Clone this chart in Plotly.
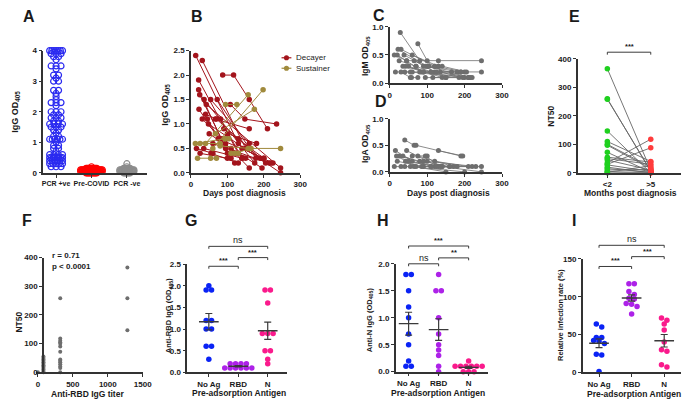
import numpy as np
import plotly.graph_objects as go

W, H = 700, 406
FONT = "Liberation Sans"
INK = "#1a1a1a"
AXIS = "#333333"

# ---------------- data ----------------
# A: IgG OD405 by group
a_groups = ["PCR +ve", "Pre-COVID", "PCR -ve"]
pcr_pos_igg = [4.0, 4.0, 4.0, 4.0, 4.0, 4.0, 4.0, 3.9, 3.9, 3.9, 3.8, 3.8, 3.7, 3.5, 3.5, 3.5, 3.4,
               3.2, 3.2, 3.1, 3.0, 3.0, 2.7, 2.7, 2.6, 2.5, 2.4, 2.3, 2.3, 2.3, 2.2, 2.0, 2.0, 2.0,
               1.9, 1.9, 1.8, 1.8, 1.8, 1.7, 1.7, 1.6, 1.6, 1.6, 1.6, 1.5, 1.5, 1.5, 1.4, 1.4, 1.3,
               1.2, 1.2, 1.1, 1.1, 1.1, 1.1, 1.1, 1.1, 1.0, 0.9, 0.9, 0.8, 0.8, 0.7, 0.6, 0.6, 0.6,
               0.6, 0.5, 0.5, 0.5, 0.5, 0.5, 0.5, 0.5, 0.5, 0.4, 0.4, 0.4, 0.4, 0.4, 0.4, 0.3, 0.3,
               0.3, 0.3, 0.3, 0.2, 0.2, 0.2]
pre_covid_igg = [0.0, 0.0, 0.0, 0.0, 0.0, 0.0, 0.0, 0.0, 0.0, 0.0,
                 0.05, 0.05, 0.05, 0.05, 0.05, 0.05, 0.05, 0.05, 0.05, 0.05,
                 0.05, 0.05, 0.05, 0.05, 0.05, 0.05, 0.05, 0.05, 0.05, 0.05,
                 0.1, 0.1, 0.1, 0.1, 0.1, 0.1, 0.1, 0.1, 0.1, 0.1,
                 0.1, 0.1, 0.1, 0.1, 0.1, 0.1, 0.1, 0.1, 0.1, 0.1,
                 0.15, 0.15, 0.15, 0.15, 0.15, 0.15, 0.15, 0.15, 0.15, 0.15, 0.2]
pcr_neg_igg = [0.0, 0.0, 0.0, 0.0, 0.0, 0.0,
               0.05, 0.05, 0.05, 0.05, 0.05, 0.05, 0.05, 0.05, 0.05, 0.05, 0.05, 0.05,
               0.1, 0.1, 0.1, 0.1, 0.1, 0.1, 0.1, 0.1, 0.1, 0.1, 0.1, 0.1,
               0.15, 0.15, 0.15, 0.15, 0.15, 0.15, 0.2, 0.3]

# B: IgG longitudinal, decayers and sustainers
decayer_days = [[13, 130], [31, 150], [87, 117, 160, 210], [21, 130], [21, 95], [24, 110],
                [36, 175], [54, 160], [72, 178], [108, 148, 235], [22, 120], [40, 70, 190],
                [31, 85], [45, 100], [67, 160], [81, 140], [42, 246], [48, 246], [90, 200],
                [100, 180], [15, 60], [25, 100], [35, 140], [55, 130], [60, 215], [75, 200],
                [110, 195], [120, 220], [130, 205], [95, 160], [140, 225], [50, 150]]
decayer_igg = [[2.4, 0.6], [2.3, 0.5], [2.0, 2.0, 1.5, 0.9], [1.9, 0.4], [1.7, 0.5], [1.6, 0.3],
               [1.5, 0.2], [1.5, 0.6], [1.5, 0.3], [1.4, 1.1, 1.0], [1.3, 0.2], [1.2, 1.1, 0.3],
               [1.1, 0.7], [1.1, 0.4], [1.1, 0.9], [1.1, 0.3], [1.4, 0.1], [1.0, 0.0], [0.9, 0.3],
               [0.8, 0.6], [0.5, 0.4], [0.4, 0.3], [0.5, 0.3], [0.4, 0.2], [0.6, 0.2], [0.7, 0.3],
               [0.5, 0.1], [0.4, 0.2], [0.7, 0.2], [0.6, 0.1], [0.5, 0.2], [0.8, 0.3]]
sustainer_days = [[12, 95], [25, 80], [40, 157], [18, 54, 70], [95, 126], [60, 198], [67, 174],
                  [93, 104], [120, 165], [157, 246], [80, 160], [110, 130]]
sustainer_igg = [[0.6, 0.7], [0.6, 0.6], [0.6, 1.6], [0.3, 0.3, 0.3], [1.4, 1.4], [0.5, 1.7],
                 [0.8, 1.3], [0.7, 0.7], [0.4, 0.5], [0.5, 0.5], [0.55, 0.5], [0.4, 0.4]]
b_series = ["Decayer", "Sustainer"]

# C: IgM longitudinal
igm_days = [[28, 80], [75, 100], [12, 45], [30, 120], [20, 90], [45, 130, 245], [40, 245],
            [60, 130], [90, 190], [25, 70], [35, 110], [50, 140], [55, 200], [65, 120],
            [80, 210], [15, 60], [22, 100], [100, 215], [110, 180], [120, 200], [135, 195],
            [70, 150], [85, 165], [95, 210], [105, 130], [115, 185], [125, 220], [30, 55],
            [42, 90], [58, 75], [140, 205], [38, 95], [150, 190]]
igm_od = [[0.9, 0.4], [0.7, 0.4], [0.5, 0.4], [0.6, 0.3], [0.5, 0.2], [0.4, 0.4, 0.4], [0.2, 0.2],
          [0.5, 0.3], [0.3, 0.2], [0.4, 0.3], [0.3, 0.2], [0.3, 0.1], [0.2, 0.1], [0.4, 0.2],
          [0.2, 0.1], [0.2, 0.2], [0.6, 0.3], [0.3, 0.1], [0.2, 0.2], [0.3, 0.2], [0.2, 0.1],
          [0.3, 0.1], [0.2, 0.2], [0.1, 0.1], [0.3, 0.3], [0.1, 0.1], [0.2, 0.1], [0.2, 0.1],
          [0.3, 0.2], [0.1, 0.1], [0.3, 0.2], [0.5, 0.3], [0.1, 0.2]]

# D: IgA longitudinal
iga_days = [[40, 65], [45, 130], [70, 190], [60, 100], [130, 195], [25, 80], [15, 60], [35, 110],
            [20, 90], [50, 140], [75, 170], [30, 120], [55, 200], [85, 245], [100, 230],
            [110, 180], [120, 210], [12, 40], [65, 150], [140, 245], [90, 160], [160, 220],
            [18, 70], [42, 125], [95, 135]]
iga_od = [[0.6, 0.5], [0.4, 0.1], [0.5, 0.3], [0.3, 0.3], [0.4, 0.3], [0.3, 0.2], [0.4, 0.2],
          [0.3, 0.1], [0.2, 0.1], [0.2, 0.1], [0.3, 0.1], [0.1, 0.1], [0.1, 0.0], [0.1, 0.1],
          [0.2, 0.1], [0.1, 0.1], [0.2, 0.1], [0.1, 0.1], [0.1, 0.0], [0.1, 0.0], [0.2, 0.1],
          [0.1, 0.1], [0.3, 0.1], [0.2, 0.1], [0.3, 0.1]]

# E: paired NT50
e_groups = ["<2", ">5"]
nt50_early = [365, 260, 258, 147, 110, 100, 97, 72, 55, 50, 45, 35, 30, 28, 20, 15, 10, 5, 2, 0]
nt50_late = [10, 5, 8, 0, 40, 20, 15, 3, 38, 30, 10, 118, 88, 5, 0, 2, 12, 0, 25, 3]

# F: NT50 vs anti-RBD titer
rbd_titer = [0, 80, 80, 80, 80, 80, 80, 80, 80, 80, 80, 80, 80,
             320, 320, 320, 320, 320, 320, 320, 320, 320, 320, 320, 320, 320, 320,
             1280, 1280, 1280]
titer_nt50 = [0, 0, 5, 10, 15, 20, 25, 30, 35, 40, 45, 50, 55,
              0, 15, 20, 28, 35, 40, 45, 72, 90, 100, 105, 110, 118, 258,
              147, 258, 365]

# G, H, I: pre-adsorption experiments
ag_groups = ["No Ag", "RBD", "N"]
rbd_igg_noag = [2.0, 1.9, 1.9, 1.2, 1.2, 1.0, 1.0, 0.6, 0.6, 0.3]
rbd_igg_rbd = [0.2, 0.2, 0.2, 0.2, 0.1, 0.1, 0.1, 0.1, 0.1, 0.1]
rbd_igg_n = [1.9, 1.9, 1.6, 0.9, 0.9, 0.9, 0.5, 0.5, 0.3, 0.2]
n_igg_noag = [1.8, 1.8, 1.5, 1.2, 1.0, 0.7, 0.5, 0.2, 0.1, 0.1]
n_igg_rbd = [1.8, 1.5, 1.5, 1.0, 0.7, 0.5, 0.4, 0.3, 0.1, 0.0]
n_igg_n = [0.2, 0.1, 0.1, 0.1, 0.1, 0.1, 0.1, 0.0, 0.0, 0.0]
infect_noag = [64, 60, 46, 46, 42, 41, 38, 24, 23, 1]
infect_rbd = [117, 117, 107, 103, 98, 97, 91, 90, 87, 77]
infect_n = [72, 69, 64, 56, 40, 30, 28, 10, 7]

# ---------------- geometry (pixel boxes: left, right, top, bottom) ----------------
PANELS = {
    "A": dict(box=(42, 147, 47.7, 172.7), xr=[0.64, 3.56], yr=[0, 4]),
    "B": dict(box=(192, 303, 47.7, 172.7), xr=[0, 300], yr=[0, 2.5]),
    "C": dict(box=(394, 508, 23.3, 81), xr=[0, 300], yr=[0, 1]),
    "D": dict(box=(394, 508, 117.3, 171.7), xr=[0, 300], yr=[0, 1]),
    "E": dict(box=(585, 690, 56, 172.7), xr=[-0.68, 1.70], yr=[0, 400]),
    "F": dict(box=(35, 143, 259.3, 376.7), xr=[-20, 1500], yr=[0, 400]),
    "G": dict(box=(188.3, 290, 266, 376.7), xr=[-0.73, 2.67], yr=[0, 2.5]),
    "H": dict(box=(400, 493.3, 265.7, 376), xr=[-0.43, 2.63], yr=[0, 2]),
    "I": dict(box=(590, 690, 260.7, 376.7), xr=[-0.5, 2.52], yr=[0, 150]),
}
ORDER = "ABCDEFGHI"


def ax_ids(key):
    i = ORDER.index(key) + 1
    return ("x", "y") if i == 1 else (f"x{i}", f"y{i}")


def scales(key):
    p = PANELS[key]
    x0, x1, top, bot = p["box"]
    return (x1 - x0) / (p["xr"][1] - p["xr"][0]), (bot - top) / (p["yr"][1] - p["yr"][0])


def paper_x(key, v):
    p = PANELS[key]
    x0, x1, _, _ = p["box"]
    r0, r1 = p["xr"]
    return (x0 + (v - r0) / (r1 - r0) * (x1 - x0)) / W


def paper_y(key, v):
    p = PANELS[key]
    _, _, top, bot = p["box"]
    r0, r1 = p["yr"]
    return 1 - (bot - (v - r0) / (r1 - r0) * (bot - top)) / H


def dot_offsets(values, bin_w, gap_px, x_scale, max_span=None):
    # spread equal-valued points side by side, centred on the category
    bins = {}
    for i, v in enumerate(values):
        bins.setdefault(int(round(v / bin_w)), []).append(i)
    offs = [0.0] * len(values)
    for idx in bins.values():
        n = len(idx)
        gap = gap_px
        if max_span and n > 1:
            gap = min(gap_px, max_span / (n - 1))
        for j, i in enumerate(idx):
            offs[i] = (j - (n - 1) / 2) * gap / x_scale
    return offs


def joined(days, vals):
    xs, ys = [], []
    for d, v in zip(days, vals):
        xs += list(d) + [None]
        ys += list(v) + [None]
    return xs, ys


fig = go.Figure()


def add(key, trace):
    xa, ya = ax_ids(key)
    trace.update(xaxis=xa, yaxis=ya, showlegend=False, hoverinfo="skip")
    fig.add_trace(trace)


# ---- A ----
xs_a, _ = scales("A")
for gi, (vals, color, gap, span, bw) in enumerate([
        (pcr_pos_igg, "#2a2af0", 5.0, 13, 0.1),
        (pre_covid_igg, "#ff0000", 1.2, 22, 0.05),
        (pcr_neg_igg, "#8c8c8c", 1.3, 15, 0.05)]):
    offs = dot_offsets(vals, bw, gap, xs_a, span)
    add("A", go.Scatter(x=[gi + 1 + o for o in offs], y=vals, mode="markers", cliponaxis=False,
                        marker=dict(symbol="circle-open", size=6, color=color, line=dict(width=1.2))))

# ---- B ----
b_colors = ["#a3141c", "#a08a3c"]
for name, days, vals, color in zip(b_series, [decayer_days, sustainer_days],
                                   [decayer_igg, sustainer_igg], b_colors):
    x, y = joined(days, vals)
    add("B", go.Scatter(x=x, y=y, mode="lines+markers", name=name, cliponaxis=False,
                        line=dict(color=color, width=1), marker=dict(size=5.5, color=color)))

# ---- C, D ----
for key, days, vals in [("C", igm_days, igm_od), ("D", iga_days, iga_od)]:
    x, y = joined(days, vals)
    add(key, go.Scatter(x=x, y=y, mode="lines+markers", cliponaxis=False,
                        line=dict(color="#6e6e6e", width=0.8), marker=dict(size=5, color="#6e6e6e")))

# ---- E ----
ex, ey = [], []
for a, b in zip(nt50_early, nt50_late):
    ex += [0, 1, None]
    ey += [a, b, None]
add("E", go.Scatter(x=ex, y=ey, mode="lines", line=dict(color="#666666", width=0.9)))
add("E", go.Scatter(x=[0] * len(nt50_early), y=nt50_early, mode="markers", cliponaxis=False,
                    marker=dict(size=5.5, color="#1fd01f")))
add("E", go.Scatter(x=[1] * len(nt50_late), y=nt50_late, mode="markers", cliponaxis=False,
                    marker=dict(size=5.5, color="#ff3c3c")))

# ---- F ----
add("F", go.Scatter(x=rbd_titer, y=titer_nt50, mode="markers", cliponaxis=False,
                    marker=dict(size=4, color="#6e6e6e")))

# ---- G, H, I ----
grp_colors = ["#0a23f5", "#ad22e8", "#fa1a8c"]
for key, groups, bw in [("G", [rbd_igg_noag, rbd_igg_rbd, rbd_igg_n], 0.1),
                        ("H", [n_igg_noag, n_igg_rbd, n_igg_n], 0.1),
                        ("I", [infect_noag, infect_rbd, infect_n], 8)]:
    xs, _ = scales(key)
    for gi, vals in enumerate(groups):
        offs = dot_offsets(vals, bw, 5.5, xs)
        add(key, go.Scatter(x=[gi + o for o in offs], y=vals, mode="markers", cliponaxis=False,
                            marker=dict(size=5.5, color=grp_colors[gi])))
        arr = np.array(vals, dtype=float)
        m = arr.mean()
        sem = arr.std(ddof=1) / np.sqrt(len(arr))
        hw = 10 / xs
        add(key, go.Scatter(x=[gi - hw, gi + hw], y=[m, m], mode="lines",
                            line=dict(color="#3a3a3a", width=1.4)))
        add(key, go.Scatter(x=[gi], y=[m], mode="markers", marker=dict(size=1, opacity=0),
                            error_y=dict(type="data", array=[sem], width=3.5, thickness=1.2,
                                         color="#3a3a3a")))

# ---------------- axes ----------------
tickfont = dict(family=FONT, size=8, color=INK, weight="bold")
common = dict(showgrid=False, zeroline=False, showline=True, linecolor=AXIS, linewidth=1.5,
              ticks="outside", ticklen=3, tickwidth=1.2, tickcolor=AXIS, tickfont=tickfont,
              tickangle=0, fixedrange=True)

x_extra = {
    "A": dict(tickvals=[1, 2, 3], ticktext=a_groups, tickfont=dict(tickfont, size=7)),
    "B": dict(tickvals=[0, 100, 200, 300]),
    "C": dict(tickvals=[0, 100, 200, 300]),
    "D": dict(tickvals=[0, 100, 200, 300]),
    "E": dict(tickvals=[0, 1], ticktext=e_groups),
    "F": dict(tickvals=[0, 500, 1000, 1500]),
    "G": dict(tickvals=[0, 1, 2], ticktext=ag_groups),
    "H": dict(tickvals=[0, 1, 2], ticktext=ag_groups),
    "I": dict(tickvals=[0, 1, 2], ticktext=ag_groups),
}
y_extra = {
    "A": dict(tickvals=[0, 1, 2, 3, 4]),
    "B": dict(tickvals=[0, 0.5, 1, 1.5, 2, 2.5], tickformat=".1f"),
    "C": dict(tickvals=[0, 0.5, 1], tickformat=".1f"),
    "D": dict(tickvals=[0, 0.5, 1], tickformat=".1f"),
    "E": dict(tickvals=[0, 100, 200, 300, 400]),
    "F": dict(tickvals=[0, 100, 200, 300, 400], anchor="free", position=41.7 / W),
    "G": dict(tickvals=[0, 0.5, 1, 1.5, 2, 2.5], tickformat=".1f"),
    "H": dict(tickvals=[0, 0.5, 1, 1.5, 2], tickformat=".1f"),
    "I": dict(tickvals=[0, 50, 100, 150]),
}

layout_axes = {}
for key in ORDER:
    p = PANELS[key]
    x0, x1, top, bot = p["box"]
    xa, ya = ax_ids(key)
    xd = dict(common, domain=[x0 / W, x1 / W], range=p["xr"], anchor=ya)
    xd.update(x_extra[key])
    yd = dict(common, domain=[1 - bot / H, 1 - top / H], range=p["yr"], anchor=xa)
    yd.update(y_extra[key])
    layout_axes["xaxis" + xa[1:]] = xd
    layout_axes["yaxis" + ya[1:]] = yd

# ---------------- text ----------------
ann = []


def text(x, y, s, size=8.5, bold=True, angle=0, xanchor="center"):
    ann.append(dict(x=x / W, y=1 - y / H, xref="paper", yref="paper", text=s, showarrow=False,
                    textangle=angle, xanchor=xanchor, yanchor="middle",
                    font=dict(family=FONT, size=size, color=INK, weight="bold" if bold else "normal")))


for letter, (lx, ly) in {"A": (27.5, 13), "B": (198, 13), "C": (383.5, 12), "D": (385, 100),
                         "E": (581.5, 13), "F": (25.5, 221.5), "G": (192.5, 221.5),
                         "H": (387.5, 221.5), "I": (581, 221.5)}.items():
    text(lx, ly, letter, size=16)

text(13.5, 110, "IgG OD<sub>405</sub>", size=9, angle=-90)
text(166.7, 103, "IgG OD<sub>405</sub>", size=9, angle=-90)
text(370, 53, "IgM OD<sub>405</sub>", size=8.5, angle=-90)
text(370, 143, "IgA OD<sub>405</sub>", size=8.5, angle=-90)
text(558, 115, "NT50", angle=-90)
text(17, 325, "NT50", angle=-90)
text(170, 318, "Anti-RBD IgG (OD<sub>405</sub>)", size=7.5, angle=-90)
text(373.3, 323, "Anti-N IgG (OD<sub>405</sub>)", size=7.5, angle=-90)
text(568, 318, "Relative infection rate (%)", size=7.5, angle=-90)

text(246.7, 193.5, "Days post diagnosis")
text(453.3, 193.5, "Days post diagnosis")
text(638.3, 193.5, "Months post diagnosis")
text(87.3, 398.8, "Anti-RBD IgG titer")
text(240.7, 398, "Pre-adsorption Antigen")
text(443.3, 397.5, "Pre-adsorption Antigen")
text(641.7, 399, "Pre-adsorption Antigen")

text(49, 256.7, "r = 0.71", size=8, xanchor="left")
text(49, 268.3, "p < 0.0001", size=8, xanchor="left")

shapes = []

# manual legend for B (short GraphPad-style symbol)
for name, color, ly in zip(b_series, b_colors, [55, 65.7]):
    shapes.append(dict(type="line", xref="paper", yref="paper", x0=284 / W, x1=294 / W,
                       y0=1 - ly / H, y1=1 - ly / H, line=dict(color=color, width=1.2)))
    shapes.append(dict(type="circle", xref="paper", yref="paper", x0=286.4 / W, x1=291.6 / W,
                       y0=1 - (ly + 2.6) / H, y1=1 - (ly - 2.6) / H, fillcolor=color,
                       line=dict(color=color, width=0)))
    text(297, ly, name, size=8, bold=False, xanchor="left")

# significance brackets: (panel, group a, group b, level in data units, label)
brackets = [
    ("E", 0, 1, 423, "***"),
    ("G", 0, 1, 2.45, "***"), ("G", 1, 2, 2.65, "***"), ("G", 0, 2, 2.91, "ns"),
    ("H", 0, 1, 2.0, "ns"), ("H", 1, 2, 2.11, "**"), ("H", 0, 2, 2.33, "***"),
    ("I", 0, 1, 140, "***"), ("I", 1, 2, 153, "***"), ("I", 0, 2, 168, "ns"),
]
for key, a, b, lvl, lab in brackets:
    xa_, xb_ = paper_x(key, a), paper_x(key, b)
    yl = paper_y(key, lvl)
    drop = 2.5 / H
    shapes.append(dict(type="path", xref="paper", yref="paper",
                       path=f"M{xa_},{yl - drop} L{xa_},{yl} L{xb_},{yl} L{xb_},{yl - drop}",
                       line=dict(color="#3a3a3a", width=1)))
    ann.append(dict(x=(xa_ + xb_) / 2, y=yl, xref="paper", yref="paper", text=lab, showarrow=False,
                    xanchor="center", yanchor="bottom", yshift=-1,
                    font=dict(family=FONT, size=9 if lab == "ns" else 7.5, color=INK,
                              weight="normal" if lab == "ns" else "bold")))

fig.update_layout(
    width=W, height=H, margin=dict(l=0, r=0, t=0, b=0),
    paper_bgcolor="white", plot_bgcolor="white",
    showlegend=False, hovermode=False,
    annotations=ann, shapes=shapes,
    **layout_axes,
)

fig.write_html("out.html", config={"displayModeBar": False},
               post_script="document.body.style.margin='0';")
